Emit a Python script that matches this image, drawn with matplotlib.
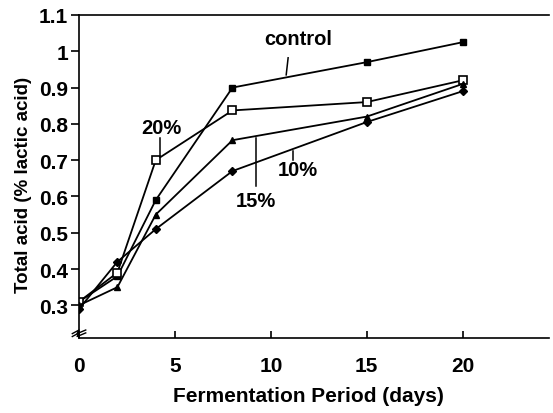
import matplotlib
matplotlib.use("Agg")
import matplotlib.pyplot as plt
import numpy as np

days = [0, 2, 4, 8, 15, 20]
control = [0.31, 0.38, 0.59, 0.90, 0.97, 1.025]
pct20 = [0.31, 0.39, 0.70, 0.837, 0.86, 0.92]
pct15 = [0.30, 0.35, 0.55, 0.755, 0.82, 0.91]
pct10 = [0.29, 0.42, 0.51, 0.67, 0.805, 0.89]

yticks = [0.3, 0.4, 0.5, 0.6, 0.7, 0.8, 0.9, 1.0, 1.1]
ytick_labels = ["0.3", "0.4", "0.5", "0.6", "0.7", "0.8", "0.9", "1", "1.1"]
xticks = [0, 5, 10, 15, 20]

plt.rcParams['font.family'] = ['Liberation Sans', 'DejaVu Sans']
plt.rcParams['font.weight'] = 'bold'

fig = plt.figure(figsize=(5.53, 4.14), dpi=100)
ax = fig.add_axes([0.1429, 0.1812, 0.8499, 0.7802])

lw = 1.3
ax.plot(days, control, color='black', lw=lw, marker='s', ms=5, mfc='black', mec='black')
ax.plot(days, pct20, color='black', lw=lw, marker='s', ms=5.5, mfc='white', mec='black', mew=1.2)
ax.plot(days, pct15, color='black', lw=lw, marker='^', ms=5, mfc='black', mec='black')
ax.plot(days, pct10, color='black', lw=lw, marker='D', ms=4.5, mfc='black', mec='black')

ax.set_xlim(0, 24.5)
ax.set_ylim(0.21, 1.10)
ax.set_xticks(xticks)
ax.set_xticklabels([str(x) for x in xticks], fontsize=15, fontweight='bold')
ax.set_yticks(yticks)
ax.set_yticklabels(ytick_labels, fontsize=15, fontweight='bold')
ax.tick_params(axis='y', direction='out', length=6, width=1.2, pad=2)
ax.tick_params(axis='x', direction='in', length=5, width=1.2, pad=13)
ax.spines['right'].set_visible(False)
for s in ['left', 'bottom', 'top']:
    ax.spines[s].set_linewidth(1.2)

ax.set_xlabel("Fermentation Period (days)", fontsize=15, fontweight='bold')
ax.set_ylabel("Total acid (% lactic acid)", fontsize=13.5, fontweight='bold')
ax.xaxis.set_label_coords(0.4875, -0.148)
ax.yaxis.set_label_coords(-0.10, 0.477)

# annotations
fs = 14.5
ax.text(11.4, 1.035, "control", fontsize=fs, fontweight='bold', ha='center', va='center')
ax.plot([10.9, 10.8], [0.982, 0.935], color='black', lw=1.1)
ax.text(4.3, 0.79, "20%", fontsize=fs, fontweight='bold', ha='center', va='center')
ax.plot([4.2, 4.2], [0.76, 0.71], color='black', lw=1.1)
ax.text(9.2, 0.59, "15%", fontsize=fs, fontweight='bold', ha='center', va='center')
ax.plot([9.2, 9.2], [0.76, 0.63], color='black', lw=1.1)
ax.text(11.4, 0.675, "10%", fontsize=fs, fontweight='bold', ha='center', va='center')
ax.plot([11.15, 11.15], [0.725, 0.70], color='black', lw=1.1)

# axis break symbol
bx = np.array([-0.35, 0.0, -0.1, 0.35])
by = np.array([0.222, 0.232, 0.222, 0.232])
ax.plot(bx, by, color='black', lw=1.0, clip_on=False)
ax.plot(bx, by - 0.008, color='black', lw=1.0, clip_on=False)

fig.savefig("out.png", dpi=100)
